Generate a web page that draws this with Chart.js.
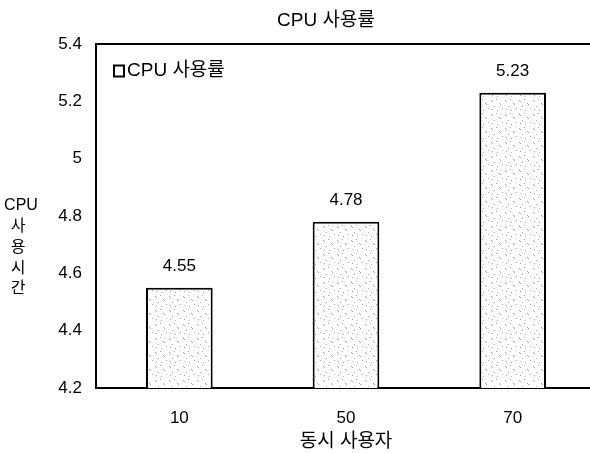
<!DOCTYPE html>
<html>
<head>
<meta charset="utf-8">
<script src="https://cdn.jsdelivr.net/npm/chart.js@4.4.1/dist/chart.umd.min.js"></script>
<style>
  html, body { margin: 0; padding: 0; background: #fff; overflow: hidden; }
  #wrap { width: 590px; height: 453px; overflow: hidden; }
  canvas { display: block; }
</style>
</head>
<body>
<div id="wrap"><canvas id="c" width="600" height="453"></canvas></div>
<script>
const categories = ['10', '50', '70'];
const cpuValues = [4.55, 4.78, 5.23];
const yTicks = [4.2, 4.4, 4.6, 4.8, 5, 5.2, 5.4];
const chartTitle = 'CPU 사용률';
const seriesName = 'CPU 사용률';
const xTitle = '동시 사용자';
const yTitleLines = ['CPU', '사', '용', '시', '간'];

const FONT = "'Liberation Sans', Arial, 'Noto Sans CJK KR', sans-serif";

function makePattern() {
  const p = document.createElement('canvas');
  p.width = 14; p.height = 14;
  const g = p.getContext('2d');
  g.fillStyle = '#fff';
  g.fillRect(0, 0, 14, 14);
  g.fillStyle = '#a8a8a8';
  const dots = [[1,2],[2,3],[6,1],[9,5],[10,6],[4,8],[12,10],[7,12],[2,11]];
  dots.forEach(d => g.fillRect(d[0], d[1], 1, 1));
  return g.createPattern(p, 'repeat');
}

const overlay = {
  id: 'overlay',
  afterDraw(chart) {
    const ctx = chart.ctx;
    const a = chart.chartArea;
    ctx.save();
    // top frame line
    ctx.strokeStyle = '#000';
    ctx.lineWidth = 2;
    ctx.beginPath();
    ctx.moveTo(a.left - 1, a.top);
    ctx.lineTo(a.right + 10, a.top);
    ctx.stroke();

    ctx.fillStyle = '#000';
    // title
    ctx.font = '19px ' + FONT;
    ctx.textAlign = 'center';
    ctx.textBaseline = 'middle';
    ctx.fillText(chartTitle, 326, 21);

    // legend
    ctx.lineWidth = 2;
    ctx.strokeRect(114, 65.5, 10, 11);
    ctx.textAlign = 'left';
    ctx.fillText(seriesName, 127, 71);

    // y title
    ctx.font = '16px ' + FONT;
    ctx.textAlign = 'center';
    yTitleLines.forEach((t, i) => {
      ctx.fillText(t, i === 0 ? 21 : 18, 206 + i * 20.7);
    });

    // value labels
    ctx.font = '17px ' + FONT;
    const meta = chart.getDatasetMeta(0);
    meta.data.forEach((bar, i) => {
      ctx.fillText(String(cpuValues[i]), bar.x, bar.y - 21);
    });
    ctx.restore();
  }
};

new Chart(document.getElementById('c'), {
  type: 'bar',
  data: {
    labels: categories,
    datasets: [{
      label: seriesName,
      data: cpuValues,
      backgroundColor: makePattern(),
      borderColor: '#000',
      borderWidth: 2,
      borderSkipped: false,
      categoryPercentage: 1,
      barPercentage: 0.4
    }]
  },
  options: {
    responsive: false,
    animation: false,
    layout: { padding: { top: 44, right: 4, bottom: 0, left: 0 } },
    plugins: {
      legend: { display: false },
      title: { display: false },
      tooltip: { enabled: false }
    },
    scales: {
      x: {
        grid: { display: false, drawTicks: false },
        border: { display: true, color: '#000', width: 2 },
        ticks: { color: '#000', font: { family: FONT, size: 17 }, padding: 20 },
        title: { display: true, text: xTitle, color: '#000', font: { family: FONT, size: 19 }, padding: { top: 0, bottom: 0 } },
        afterFit(s) { s.height = 65; }
      },
      y: {
        min: 4.2,
        max: 5.4,
        afterBuildTicks(s) { s.ticks = yTicks.map(v => ({ value: v })); },
        grid: { display: false, drawTicks: false },
        border: { display: true, color: '#000', width: 2 },
        ticks: {
          color: '#000',
          font: { family: FONT, size: 17 },
          padding: 14,
          callback: v => String(Math.round(v * 10) / 10)
        },
        afterFit(s) { s.width = 96; }
      }
    }
  },
  plugins: [overlay]
});
</script>
</body>
</html>
